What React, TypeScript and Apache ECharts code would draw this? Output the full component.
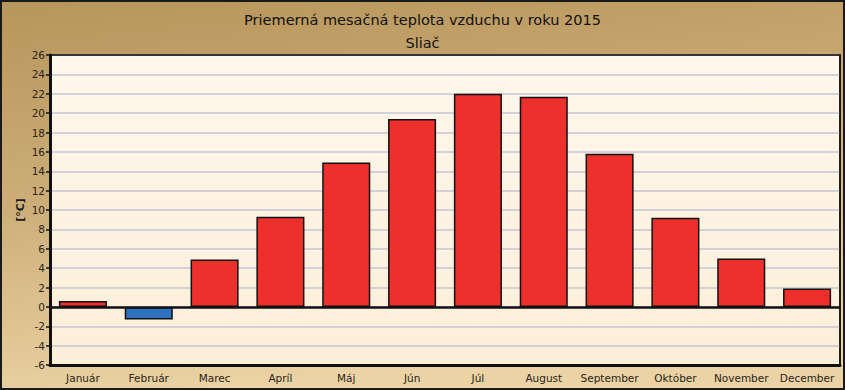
import React, { useEffect, useRef } from "react";
import * as echarts from "echarts";

const months = ["Január", "Február", "Marec", "Apríl", "Máj", "Jún", "Júl", "August", "September", "Október", "November", "December"];
const temps = [0.6, -1.3, 4.9, 9.3, 14.9, 19.4, 22.0, 21.7, 15.8, 9.2, 5.0, 1.9];
const titleText = "Priemerná mesačná teplota vzduchu v roku 2015";
const subtitleText = "Sliač";
const yAxisName = "[°C]";
const yMin = -6;
const yMax = 26;
const yStep = 2;

export default function App() {
  const ref = useRef<HTMLDivElement>(null);
  useEffect(() => {
    document.body.style.margin = "0";
    if (!ref.current) return;
    const chart = echarts.init(ref.current, null, { renderer: "svg" });
    const font = "DejaVu Sans";
    chart.setOption({
      animation: false,
      backgroundColor: new echarts.graphic.LinearGradient(0, 0, 0.25, 1, [
        { offset: 0, color: "#B7955B" },
        { offset: 0.5, color: "#CDAE78" },
        { offset: 1, color: "#EBD3A5" },
      ]),
      title: {
        text: titleText + "\n" + subtitleText,
        left: "center",
        top: 3,
        textStyle: { fontFamily: font, fontSize: 14.5, fontWeight: "normal", color: "#111", lineHeight: 23 },
      },
      graphic: [
        {
          type: "rect",
          shape: { x: 1, y: 1, width: 843, height: 388 },
          style: { fill: "none", stroke: "#1a1a1a", lineWidth: 2 },
          silent: true,
          z: 100,
        },
        {
          type: "rect",
          shape: { x: 50, y: 55, width: 790, height: 310 },
          style: { fill: "none", stroke: "#111", lineWidth: 1.5 },
          silent: true,
          z: 100,
        },
        {
          type: "text",
          x: 20,
          y: 210,
          rotation: Math.PI / 2,
          silent: true,
          z: 100,
          style: {
            text: yAxisName,
            fontFamily: font,
            fontSize: 11,
            fontWeight: "bold",
            fill: "#1a1a1a",
            align: "center",
            verticalAlign: "middle",
          },
        },
      ],
      grid: {
        left: 50,
        right: 5,
        top: 55,
        bottom: 25,
        show: true,
        backgroundColor: new echarts.graphic.LinearGradient(0, 0, 0, 1, [
          { offset: 0, color: "#FFF7EC" },
          { offset: 1, color: "#FCEFD9" },
        ]),
        borderColor: "#111",
        borderWidth: 1.5,
      },
      xAxis: {
        type: "category",
        data: months,
        axisLine: { onZero: false, lineStyle: { color: "#111", width: 3 } },
        axisTick: { alignWithLabel: true, length: 5, lineStyle: { color: "#111", width: 1.5 } },
        axisLabel: { interval: 0, fontFamily: font, fontSize: 10.5, color: "#2a2418", margin: 7 },
        splitLine: { show: false },
      },
      yAxis: {
        type: "value",
        min: yMin,
        max: yMax,
        interval: yStep,
        axisLine: { show: true, lineStyle: { color: "#111", width: 3 } },
        axisTick: { show: true, length: 4, lineStyle: { color: "#111", width: 1.5 } },
        axisLabel: { fontFamily: font, fontSize: 10.5, color: "#2a2418", margin: 5 },
        splitLine: { show: true, lineStyle: { color: "#C4C4D4", width: 1.5 } },
      },
      series: [
        {
          type: "bar",
          data: temps.map((v) => ({
            value: v,
            itemStyle: { color: v < 0 ? "#2C72BE" : "#EE302C" },
          })),
          barWidth: "73%",
          itemStyle: { borderColor: "#111", borderWidth: 1.5 },
          markLine: {
            silent: true,
            symbol: "none",
            label: { show: false },
            lineStyle: { color: "#111", width: 2.5, type: "solid" },
            data: [{ yAxis: 0 }],
          },
        },
      ],
    });
    return () => chart.dispose();
  }, []);
  return <div ref={ref} style={{ width: 845, height: 390 }} />;
}
